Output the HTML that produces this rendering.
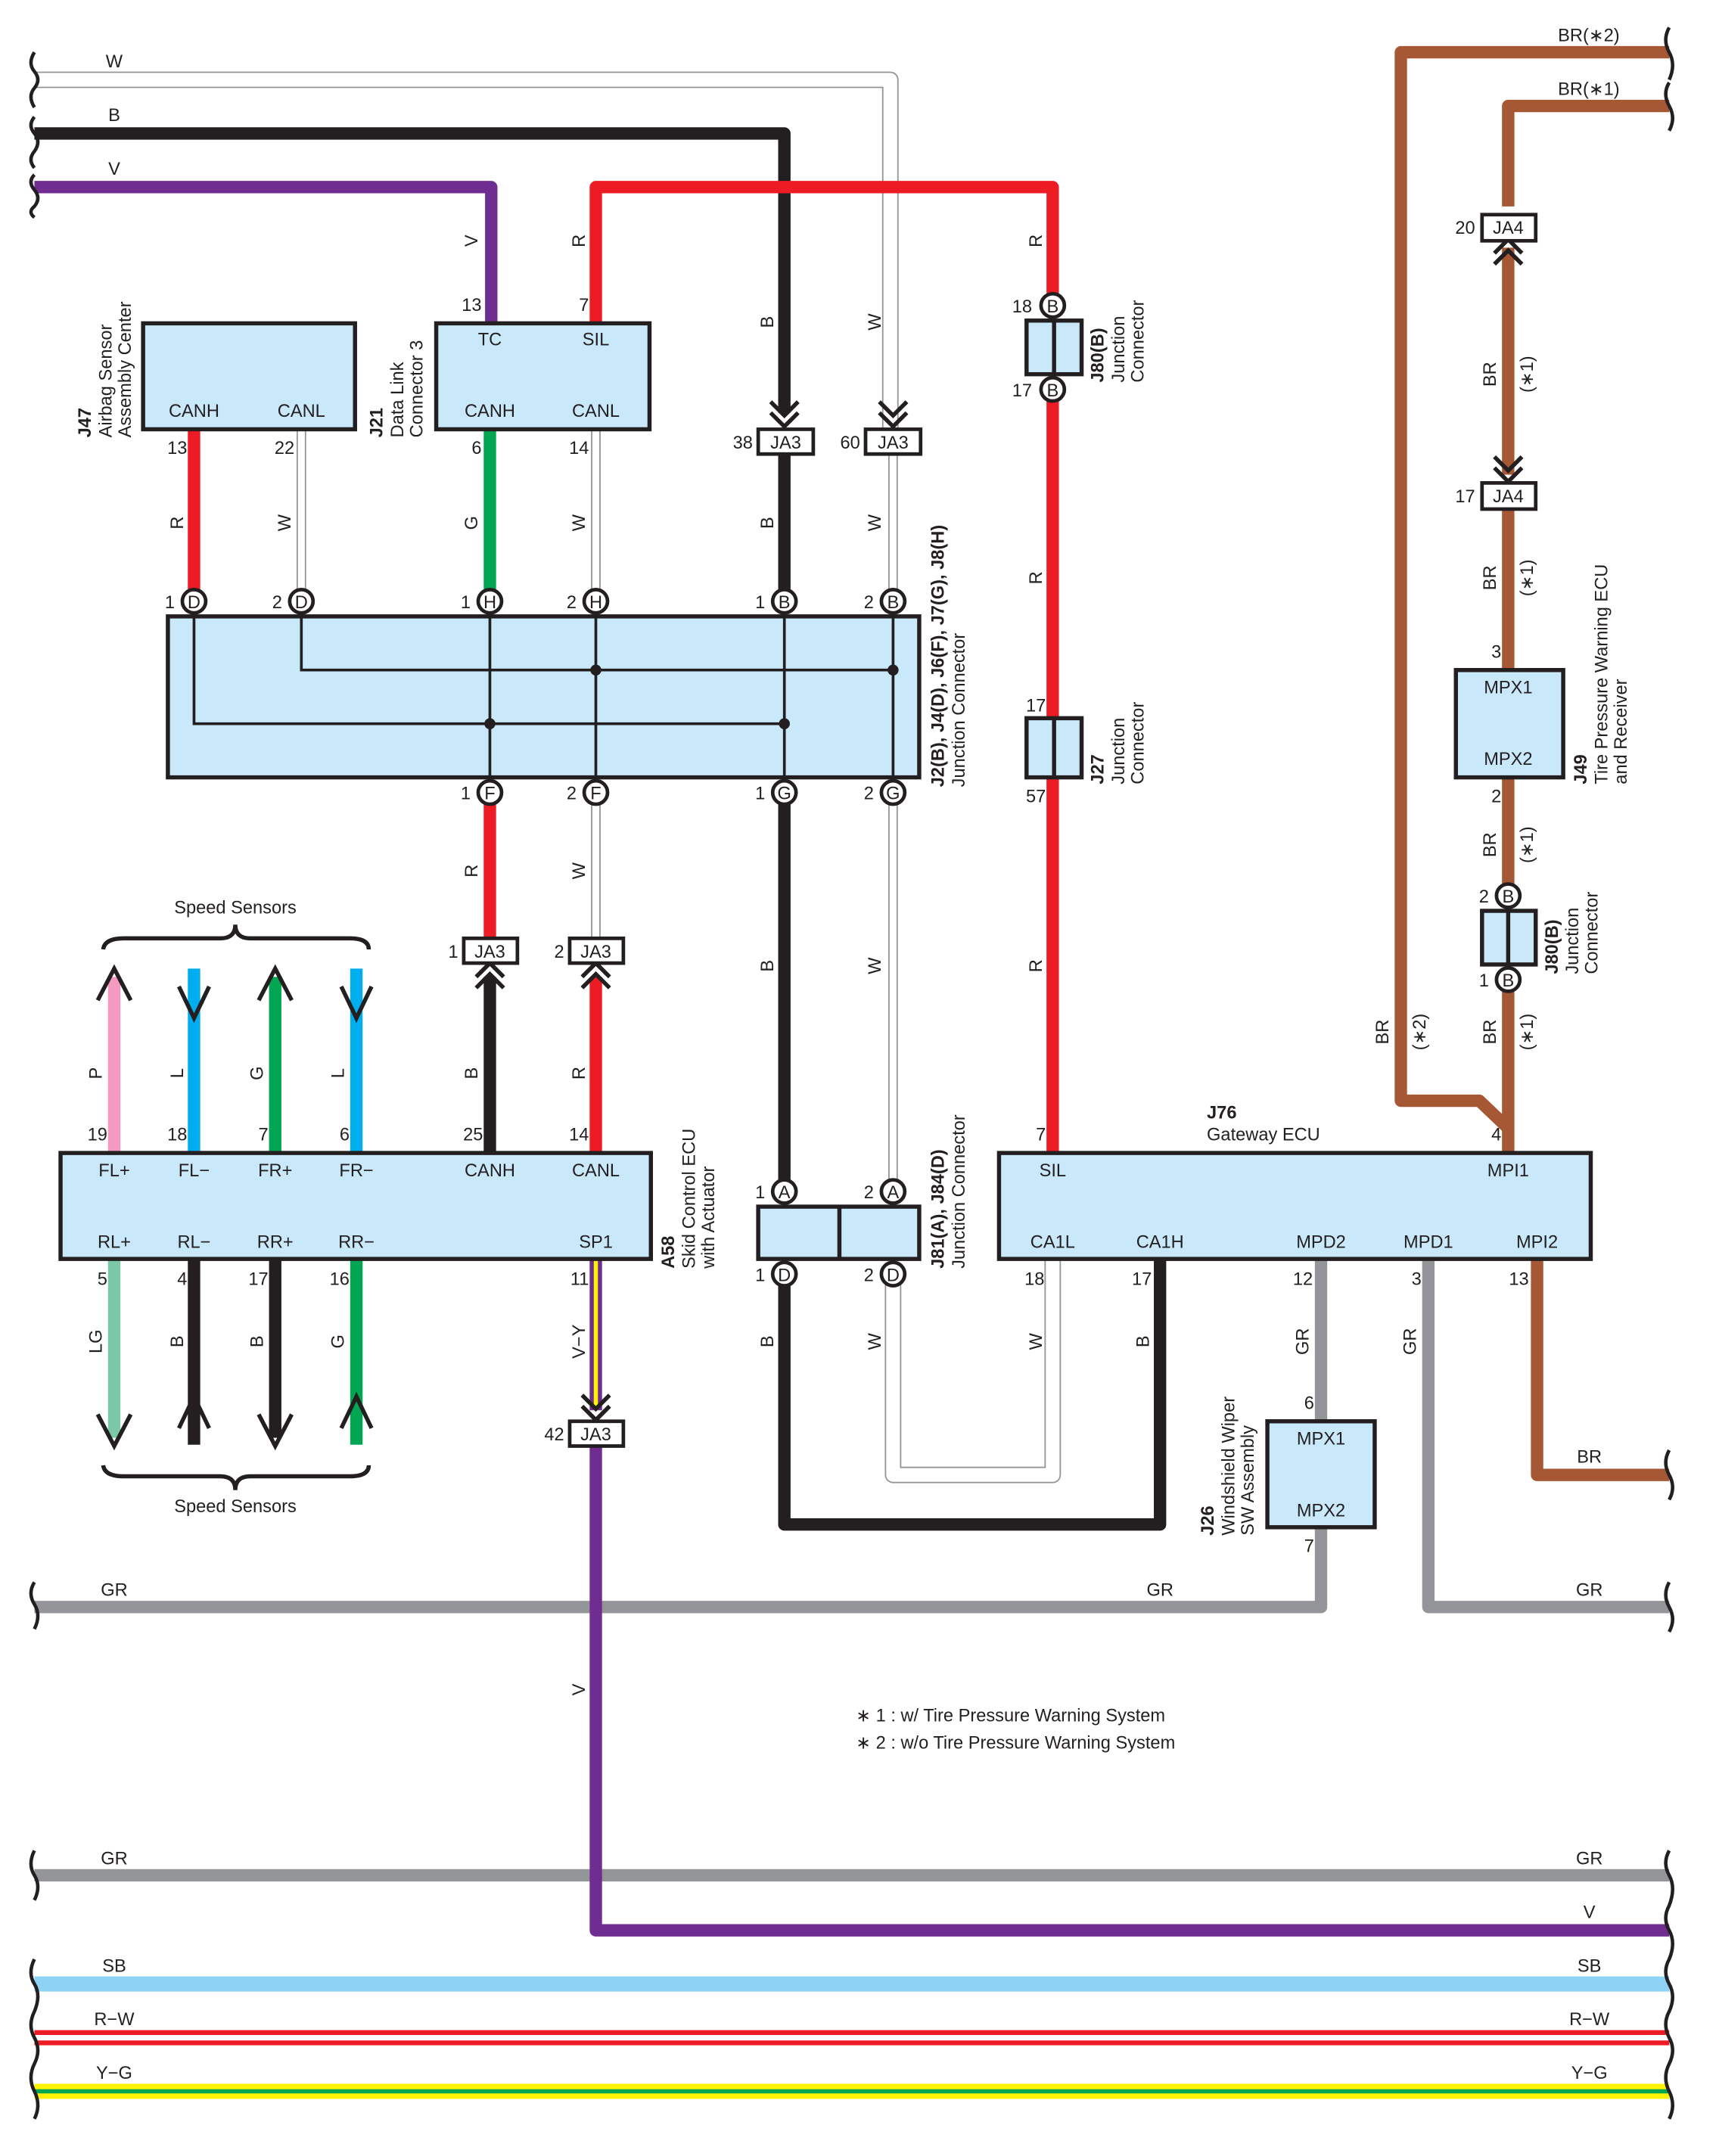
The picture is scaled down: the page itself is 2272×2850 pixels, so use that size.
<!DOCTYPE html>
<html><head><meta charset="utf-8"><style>
html,body{margin:0;padding:0;background:#fff;}
svg{display:block;}
text{font-family:"Liberation Sans",sans-serif;font-size:13px;fill:#231f20;}
.b{font-weight:bold;}
.m{text-anchor:middle;}
.e{text-anchor:end;}
</style></head><body>
<svg width="2272" height="2850" viewBox="0 0 1249.2 1567" preserveAspectRatio="none" xmlns="http://www.w3.org/2000/svg">
<defs>
<g id="cir"><circle r="8.5" fill="#fff" stroke="#231f20" stroke-width="2.6"/></g>
</defs>
<g fill="none" stroke-linejoin="round">
<path d="M25 58 H647 V330" stroke="#939598" stroke-width="12"/>
<path d="M25 58 H647 V330" stroke="#fff" stroke-width="10"/>
<path d="M25 97 H570 V300" stroke="#231f20" stroke-width="9"/>
<path d="M25 136 H357 V236" stroke="#6f2c91" stroke-width="9"/>
<path d="M433 236 V136 H765 V222" stroke="#ed1c24" stroke-width="9"/>
<path d="M141 312 V437" stroke="#ed1c24" stroke-width="9"/>
<path d="M219 312 V437" stroke="#939598" stroke-width="7"/><path d="M219 312 V437" stroke="#fff" stroke-width="5"/>
<path d="M356 312 V437" stroke="#00a651" stroke-width="9"/>
<path d="M433 312 V437" stroke="#939598" stroke-width="7"/><path d="M433 312 V437" stroke="#fff" stroke-width="5"/>
<path d="M570 330 V437" stroke="#231f20" stroke-width="9"/>
<path d="M649 330 V437" stroke="#939598" stroke-width="7"/><path d="M649 330 V437" stroke="#fff" stroke-width="5"/>
<path d="M356 576 V682" stroke="#ed1c24" stroke-width="9"/>
<path d="M433 576 V682" stroke="#939598" stroke-width="7"/><path d="M433 576 V682" stroke="#fff" stroke-width="5"/>
<path d="M356 710 V838" stroke="#231f20" stroke-width="9"/>
<path d="M433 710 V838" stroke="#ed1c24" stroke-width="9"/>
<path d="M570 576 V866" stroke="#231f20" stroke-width="9"/>
<path d="M649 576 V866" stroke="#939598" stroke-width="7"/><path d="M649 576 V866" stroke="#fff" stroke-width="5"/>
<path d="M570 926 V1108 H843 V916" stroke="#231f20" stroke-width="9"/>
<path d="M649 926 V1072 H765 V916" stroke="#939598" stroke-width="12"/>
<path d="M649 926 V1072 H765 V916" stroke="#fff" stroke-width="10"/>
<path d="M433 916 V1025" stroke="#6f2c91" stroke-width="9"/>
<path d="M433 916 V1025" stroke="#fff200" stroke-width="3"/>
<path d="M25 1168 H960 V1110" stroke="#939598" stroke-width="9"/>
<path d="M960 916 V1033" stroke="#939598" stroke-width="9"/>
<path d="M1038 916 V1168 H1213" stroke="#939598" stroke-width="9"/>
<path d="M25 1363 H1213" stroke="#939598" stroke-width="9"/>
<path d="M433 1051 V1403 H1213" stroke="#6f2c91" stroke-width="9"/>
<path d="M1117 916 V1072 H1213" stroke="#a65734" stroke-width="9"/>
<path d="M1213 38 H1018 V800 H1075 L1096 820" stroke="#a65734" stroke-width="9"/>
<path d="M1213 77 H1096 V150" stroke="#a65734" stroke-width="9"/>
<path d="M1096 180 V345" stroke="#a65734" stroke-width="9"/>
<path d="M1096 370 V487" stroke="#a65734" stroke-width="9"/>
<path d="M1096 565 V651" stroke="#a65734" stroke-width="9"/>
<path d="M1096 712 V838" stroke="#a65734" stroke-width="9"/>
<path d="M765 283 V838" stroke="#ed1c24" stroke-width="9"/>
<path d="M25 1442 H1213" stroke="#8dd3f5" stroke-width="11"/>
<path d="M25 1481 H1213" stroke="#ed1c24" stroke-width="11"/>
<path d="M25 1481 H1213" stroke="#fff" stroke-width="4"/>
<path d="M25 1520 H1213" stroke="#fff200" stroke-width="11"/>
<path d="M25 1520 H1213" stroke="#00a651" stroke-width="3"/>
<path d="M83 838 V710" stroke="#f49ac1" stroke-width="9"/>
<path d="M141 838 V704" stroke="#00aeef" stroke-width="9"/>
<path d="M200 838 V710" stroke="#00a651" stroke-width="9"/>
<path d="M259 838 V704" stroke="#00aeef" stroke-width="9"/>
<path d="M83 916 V1045" stroke="#7bc8a4" stroke-width="9"/>
<path d="M141 916 V1050" stroke="#231f20" stroke-width="9"/>
<path d="M200 916 V1045" stroke="#231f20" stroke-width="9"/>
<path d="M259 916 V1050" stroke="#00a651" stroke-width="9"/>
</g>
<g fill="none" stroke="#231f20" stroke-width="3">
<path d="M71 727 L83 704 L95 727"/><path d="M188 727 L200 704 L212 727"/>
<path d="M130 717 L141 740 L152 717"/><path d="M248 717 L259 740 L270 717"/>
<path d="M71 1028 L83 1051 L95 1028"/><path d="M188 1028 L200 1051 L212 1028"/>
<path d="M130 1038 L141 1015 L152 1038"/><path d="M248 1038 L259 1015 L270 1038"/>
<path d="M75 690 Q76 682 90 682 H160 Q171 682 171 672 Q171 682 182 682 H254 Q268 682 268 690"/>
<path d="M75 1065 Q76 1073 90 1073 H160 Q171 1073 171 1083 Q171 1073 182 1073 H254 Q268 1073 268 1065"/>
<path d="M560 292 L570 302 L580 292 M560 300 L570 310 L580 300"/>
<path d="M639 292 L649 302 L659 292 M639 300 L649 310 L659 300"/>
<path d="M346 710 L356 700 L366 710 M346 718 L356 708 L366 718"/>
<path d="M423 710 L433 700 L443 710 M423 718 L433 708 L443 718"/>
<path d="M423 1014 L433 1024 L443 1014 M423 1022 L433 1032 L443 1022"/>
<path d="M1086 184 L1096 174 L1106 184 M1086 192 L1096 182 L1106 192"/>
<path d="M1086 332 L1096 342 L1106 332 M1086 340 L1096 350 L1106 340"/>
</g>
<g fill="none" stroke="#231f20" stroke-width="2.5">
<path d="M25 38 Q20 46 25 52 Q30 58 25 64 Q20 70 25 78 M25 85 Q20 91 25 97 Q30 103 25 110 Q20 116 25 122 M25 127 Q20 132 25 138 Q30 144 25 150 Q20 154 25 158"/>
<path d="M25 1150 Q20 1158 25 1166 Q30 1174 25 1184 M25 1345 Q20 1355 25 1363 Q30 1371 25 1381 M25 1424 Q20 1434 25 1442 Q30 1450 25 1462 Q20 1472 25 1481 Q30 1490 25 1500 Q20 1510 25 1520 Q30 1530 25 1540"/>
<path d="M1213 20 Q1208 29 1213 38 Q1218 47 1213 58 M1213 60 Q1208 68 1213 77 Q1218 86 1213 95 M1213 1054 Q1208 1063 1213 1072 Q1218 1081 1213 1090 M1213 1150 Q1208 1159 1213 1168 Q1218 1177 1213 1186"/>
<path d="M1213 1345 Q1208 1354 1213 1363 Q1218 1372 1213 1385 Q1208 1394 1213 1403 Q1218 1412 1213 1424 Q1208 1433 1213 1442 Q1218 1451 1213 1462 Q1208 1471 1213 1481 Q1218 1490 1213 1500 Q1208 1510 1213 1520 Q1218 1530 1213 1540"/>
</g>
<g fill="#c9e8f9" stroke="#231f20" stroke-width="3">
<rect x="104" y="235" width="154" height="77"/>
<rect x="317" y="235" width="155" height="77"/>
<rect x="122" y="448" width="546" height="117"/>
<rect x="44" y="838" width="429" height="77"/>
<rect x="726" y="838" width="430" height="77"/>
<rect x="551" y="877" width="117" height="38"/>
<rect x="921" y="1033" width="78" height="77"/>
<rect x="1058" y="487" width="78" height="78"/>
<rect x="746" y="233" width="40" height="39"/>
<rect x="746" y="522" width="40" height="43"/>
<rect x="1077" y="662" width="39" height="39"/>
</g>
<g stroke="#231f20" stroke-width="3">
<line x1="610" y1="877" x2="610" y2="915"/>
<line x1="766" y1="233" x2="766" y2="272"/><line x1="766" y1="522" x2="766" y2="565"/><line x1="1096" y1="662" x2="1096" y2="701"/>
</g>
<g fill="none" stroke="#231f20" stroke-width="2">
<path d="M141 448 V526 H570"/><path d="M219 448 V487 H649"/>
<path d="M356 448 V565 M433 448 V565 M570 448 V565 M649 448 V565"/>
</g>
<g fill="#231f20"><circle cx="356" cy="526" r="4"/><circle cx="570" cy="526" r="4"/><circle cx="433" cy="487" r="4"/><circle cx="649" cy="487" r="4"/></g>
<g fill="#fff" stroke="#231f20" stroke-width="2.6">
<rect x="551" y="312" width="40" height="18"/><rect x="629" y="312" width="40" height="18"/>
<rect x="337" y="682" width="39" height="18"/><rect x="414" y="682" width="39" height="18"/>
<rect x="414" y="1033" width="39" height="18"/>
<rect x="1077" y="156" width="39" height="19"/><rect x="1077" y="351" width="39" height="19"/>
</g>
<g class="m">
<text x="571" y="326">JA3</text><text x="649" y="326">JA3</text><text x="356" y="696">JA3</text><text x="433" y="696">JA3</text><text x="433" y="1047">JA3</text>
<text x="1096" y="170">JA4</text><text x="1096" y="365">JA4</text>
</g>
<g>
<use href="#cir" x="141" y="437"/><use href="#cir" x="219" y="437"/><use href="#cir" x="356" y="437"/><use href="#cir" x="433" y="437"/><use href="#cir" x="570" y="437"/><use href="#cir" x="649" y="437"/>
<use href="#cir" x="356" y="576"/><use href="#cir" x="433" y="576"/><use href="#cir" x="570" y="576"/><use href="#cir" x="649" y="576"/>
<use href="#cir" x="570" y="866"/><use href="#cir" x="649" y="866"/><use href="#cir" x="570" y="926"/><use href="#cir" x="649" y="926"/>
<use href="#cir" x="765" y="222"/><use href="#cir" x="765" y="283"/><use href="#cir" x="1096" y="651"/><use href="#cir" x="1096" y="712"/>
</g>
<g class="m" style="font-size:12px">
<text x="141" y="442">D</text><text x="219" y="442">D</text><text x="356" y="442">H</text><text x="433" y="442">H</text><text x="570" y="442">B</text><text x="649" y="442">B</text>
<text x="356" y="581">F</text><text x="433" y="581">F</text><text x="570" y="581">G</text><text x="649" y="581">G</text>
<text x="570" y="871">A</text><text x="649" y="871">A</text><text x="570" y="931">D</text><text x="649" y="931">D</text>
<text x="765" y="227">B</text><text x="765" y="288">B</text><text x="1096" y="656">B</text><text x="1096" y="717">B</text>
</g>
<g class="e">
<text x="127" y="442">1</text><text x="205" y="442">2</text><text x="342" y="442">1</text><text x="419" y="442">2</text><text x="556" y="442">1</text><text x="635" y="442">2</text>
<text x="342" y="581">1</text><text x="419" y="581">2</text><text x="556" y="581">1</text><text x="635" y="581">2</text>
<text x="556" y="871">1</text><text x="635" y="871">2</text><text x="556" y="931">1</text><text x="635" y="931">2</text>
<text x="547" y="326">38</text><text x="625" y="326">60</text><text x="333" y="696">1</text><text x="410" y="696">2</text><text x="410" y="1047">42</text>
<text x="750" y="227">18</text><text x="750" y="288">17</text><text x="1082" y="656">2</text><text x="1082" y="717">1</text>
<text x="1072" y="170">20</text><text x="1072" y="365">17</text>
<text x="136" y="330">13</text><text x="214" y="330">22</text><text x="350" y="226">13</text><text x="428" y="226">7</text><text x="350" y="330">6</text><text x="428" y="330">14</text>
<text x="78" y="829">19</text><text x="136" y="829">18</text><text x="195" y="829">7</text><text x="254" y="829">6</text><text x="351" y="829">25</text><text x="428" y="829">14</text>
<text x="78" y="934">5</text><text x="136" y="934">4</text><text x="195" y="934">17</text><text x="254" y="934">16</text><text x="428" y="934">11</text>
<text x="760" y="829">7</text><text x="1091" y="829">4</text>
<text x="759" y="934">18</text><text x="837" y="934">17</text><text x="954" y="934">12</text><text x="1033" y="934">3</text><text x="1111" y="934">13</text>
<text x="955" y="1024">6</text><text x="955" y="1128">7</text>
<text x="760" y="517">17</text><text x="760" y="583">57</text>
<text x="1091" y="478">3</text><text x="1091" y="583">2</text>
</g>
<g class="m">
<text x="141" y="303">CANH</text><text x="219" y="303">CANL</text>
<text x="356" y="251">TC</text><text x="433" y="251">SIL</text><text x="356" y="303">CANH</text><text x="433" y="303">CANL</text>
<text x="83" y="855">FL+</text><text x="141" y="855">FL−</text><text x="200" y="855">FR+</text><text x="259" y="855">FR−</text><text x="356" y="855">CANH</text><text x="433" y="855">CANL</text>
<text x="83" y="907">RL+</text><text x="141" y="907">RL−</text><text x="200" y="907">RR+</text><text x="259" y="907">RR−</text><text x="433" y="907">SP1</text>
<text x="765" y="855">SIL</text><text x="1096" y="855">MPI1</text>
<text x="765" y="907">CA1L</text><text x="843" y="907">CA1H</text><text x="960" y="907">MPD2</text><text x="1038" y="907">MPD1</text><text x="1117" y="907">MPI2</text>
<text x="960" y="1050">MPX1</text><text x="960" y="1102">MPX2</text>
<text x="1096" y="504">MPX1</text><text x="1096" y="556">MPX2</text>
<text x="171" y="664">Speed Sensors</text><text x="171" y="1099">Speed Sensors</text>
</g>
<text x="877" y="813" class="b">J76</text><text x="877" y="829">Gateway ECU</text>
<g class="m">
<text x="83" y="49">W</text><text x="83" y="88">B</text><text x="83" y="127">V</text>
<text x="83" y="1160">GR</text><text x="843" y="1160">GR</text><text x="1155" y="1160">GR</text>
<text x="83" y="1355">GR</text><text x="1155" y="1355">GR</text><text x="1155" y="1394">V</text>
<text x="83" y="1433">SB</text><text x="1155" y="1433">SB</text>
<text x="83" y="1472">R−W</text><text x="1155" y="1472">R−W</text>
<text x="83" y="1511">Y−G</text><text x="1155" y="1511">Y−G</text>
<text x="1155" y="1063">BR</text>
</g>
<text x="1177" y="30" class="e">BR(∗2)</text><text x="1177" y="69" class="e">BR(∗1)</text>
<g class="m">
<text transform="translate(347,175) rotate(-90)">V</text><text transform="translate(425,175) rotate(-90)">R</text>
<text transform="translate(562,234) rotate(-90)">B</text><text transform="translate(640,234) rotate(-90)">W</text>
<text transform="translate(757,175) rotate(-90)">R</text>
<text transform="translate(133,380) rotate(-90)">R</text><text transform="translate(211,380) rotate(-90)">W</text><text transform="translate(347,380) rotate(-90)">G</text><text transform="translate(425,380) rotate(-90)">W</text>
<text transform="translate(562,380) rotate(-90)">B</text><text transform="translate(640,380) rotate(-90)">W</text><text transform="translate(757,420) rotate(-90)">R</text>
<text transform="translate(347,633) rotate(-90)">R</text><text transform="translate(425,633) rotate(-90)">W</text>
<text transform="translate(562,702) rotate(-90)">B</text><text transform="translate(640,702) rotate(-90)">W</text><text transform="translate(757,702) rotate(-90)">R</text>
<text transform="translate(347,780) rotate(-90)">B</text><text transform="translate(425,780) rotate(-90)">R</text>
<text transform="translate(74,780) rotate(-90)">P</text><text transform="translate(133,780) rotate(-90)">L</text><text transform="translate(191,780) rotate(-90)">G</text><text transform="translate(250,780) rotate(-90)">L</text>
<text transform="translate(74,975) rotate(-90)">LG</text><text transform="translate(133,975) rotate(-90)">B</text><text transform="translate(191,975) rotate(-90)">B</text><text transform="translate(250,975) rotate(-90)">G</text>
<text transform="translate(425,975) rotate(-90)">V−Y</text><text transform="translate(425,1228) rotate(-90)">V</text>
<text transform="translate(562,975) rotate(-90)">B</text><text transform="translate(640,975) rotate(-90)">W</text><text transform="translate(757,975) rotate(-90)">W</text><text transform="translate(835,975) rotate(-90)">B</text>
<text transform="translate(951,975) rotate(-90)">GR</text><text transform="translate(1029,975) rotate(-90)">GR</text>
<text transform="translate(1087,272) rotate(-90)">BR</text><text transform="translate(1114,272) rotate(-90)">(∗1)</text>
<text transform="translate(1087,420) rotate(-90)">BR</text><text transform="translate(1114,420) rotate(-90)">(∗1)</text>
<text transform="translate(1087,614) rotate(-90)">BR</text><text transform="translate(1114,614) rotate(-90)">(∗1)</text>
<text transform="translate(1087,750) rotate(-90)">BR</text><text transform="translate(1114,750) rotate(-90)">(∗1)</text>
<text transform="translate(1009,750) rotate(-90)">BR</text><text transform="translate(1036,750) rotate(-90)">(∗2)</text>
</g>
<g>
<text transform="translate(66,318) rotate(-90)" class="b">J47</text>
<text transform="translate(81,318) rotate(-90)">Airbag Sensor</text><text transform="translate(95,318) rotate(-90)">Assembly Center</text>
<text transform="translate(278,318) rotate(-90)" class="b">J21</text>
<text transform="translate(293,318) rotate(-90)">Data Link</text><text transform="translate(307,318) rotate(-90)">Connector 3</text>
<text transform="translate(686,572) rotate(-90)" class="b">J2(B), J4(D), J6(F), J7(G), J8(H)</text>
<text transform="translate(701,572) rotate(-90)">Junction Connector</text>
<text transform="translate(686,922) rotate(-90)" class="b">J81(A), J84(D)</text>
<text transform="translate(701,922) rotate(-90)">Junction Connector</text>
<text transform="translate(490,922) rotate(-90)" class="b">A58</text>
<text transform="translate(505,922) rotate(-90)">Skid Control ECU</text><text transform="translate(519,922) rotate(-90)">with Actuator</text>
<text transform="translate(802,278) rotate(-90)" class="b">J80(B)</text>
<text transform="translate(817,278) rotate(-90)">Junction</text><text transform="translate(831,278) rotate(-90)">Connector</text>
<text transform="translate(802,570) rotate(-90)" class="b">J27</text>
<text transform="translate(817,570) rotate(-90)">Junction</text><text transform="translate(831,570) rotate(-90)">Connector</text>
<text transform="translate(1132,708) rotate(-90)" class="b">J80(B)</text>
<text transform="translate(1147,708) rotate(-90)">Junction</text><text transform="translate(1161,708) rotate(-90)">Connector</text>
<text transform="translate(1153,570) rotate(-90)" class="b">J49</text>
<text transform="translate(1168,570) rotate(-90)">Tire Pressure Warning ECU</text><text transform="translate(1182,570) rotate(-90)">and Receiver</text>
<text transform="translate(882,1116) rotate(-90)" class="b">J26</text>
<text transform="translate(897,1116) rotate(-90)">Windshield Wiper</text><text transform="translate(911,1116) rotate(-90)">SW Assembly</text>
</g>
<text x="622" y="1251">∗ 1 : w/ Tire Pressure Warning System</text>
<text x="622" y="1271">∗ 2 : w/o Tire Pressure Warning System</text>
</svg>
</body></html>
